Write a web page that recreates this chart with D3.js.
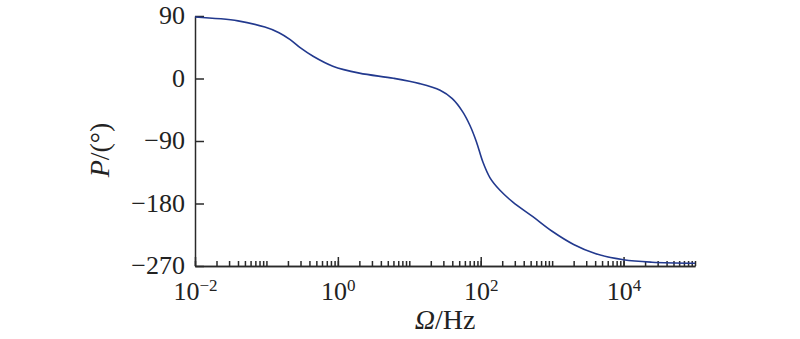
<!DOCTYPE html>
<html>
<head>
<meta charset="utf-8">
<script src="https://cdn.jsdelivr.net/npm/d3@7"></script>
<style>
	body { margin: 0; background: #fff; }
	svg text { font-family: "Liberation Serif", "Times New Roman", serif; fill: #222; }
</style>
</head>
<body>
<div id="chart"></div>
<script>
// frequency points (Hz)
const freq = [0.01, 0.04, 0.095, 0.15, 0.215, 0.3, 0.45, 0.85, 2, 6, 14, 27, 40, 56, 71, 87, 107, 135, 186, 282, 537, 1000, 2000, 4000, 10000, 25000, 100000];
// phase in degrees at those frequencies
const phase = [88.5, 83, 74, 66, 56, 44, 32, 17.7, 7.7, 0.3, -7.4, -17, -29, -48, -68, -91, -120, -143, -161, -178, -199, -220, -239, -252, -261, -264.5, -266];

// y tick values and labelled decades on the x axis
const yTicks = [90, 0, -90, -180, -270];
const xMajor = [-2, 0, 2, 4];

// layout (plot box in pixels)
const W = 800, H = 339;
const m = {left: 195, right: 695, top: 16, bottom: 266};

const svg = d3.select("#chart")
	.append("svg")
	.attr("width", W)
	.attr("height", H);

// scales
const x = d3.scaleLog()
	.domain([1e-2, 1e5])
	.range([m.left, m.right]);

const y = d3.scaleLinear()
	.domain([-270, 90])
	.range([m.bottom, m.top]);

// minor ticks: every 1..9 of each decade
var minor = [];
for (var e = -2; e < 5; e++) {
	for (var k = 1; k < 10; k++) {
		minor.push(k * Math.pow(10, e));
	}
}
minor.push(1e5);

const axisColor = "#2a2a2a";

// x axis with small ticks
const xMinor = svg.append("g")
	.attr("transform", `translate(0,${m.bottom})`)
	.call(d3.axisBottom(x).tickValues(minor).tickSizeInner(-5).tickSizeOuter(0).tickFormat(""));

// x axis big ticks with labels
const xAxis = svg.append("g")
	.attr("transform", `translate(0,${m.bottom})`)
	.call(d3.axisBottom(x).tickValues(xMajor.map(d => Math.pow(10, d))).tickSizeInner(-9).tickSizeOuter(0));

xAxis.selectAll(".tick text").each(function(d) {
	var t = d3.select(this);
	var p = Math.round(Math.log10(d));
	t.text("")
		.attr("y", 34)
		.attr("dy", 0)
		.attr("font-size", 26)
		.attr("text-anchor", "middle");
	t.append("tspan").text("10");
	t.append("tspan")
		.attr("font-size", 17)
		.attr("dy", -9)
		.text(String(p).replace("-", "\u2212"));
});

// y axis
const yAxis = svg.append("g")
	.attr("transform", `translate(${m.left},0)`)
	.call(d3.axisLeft(y).tickValues(yTicks).tickSizeInner(-9).tickSizeOuter(0).tickPadding(10)
		.tickFormat(d => String(d).replace("-", "\u2212")));

yAxis.selectAll(".tick text")
	.attr("font-size", 26)
	.attr("dy", "0.3em");

// axis styling
svg.selectAll(".domain, .tick line")
	.attr("stroke", axisColor)
	.attr("stroke-width", 1.5);
svg.selectAll(".tick text").attr("fill", "#222");

// the phase curve
var pts = freq.map((f, i) => [x(f), y(phase[i])]);

const line = d3.line()
	.curve(d3.curveCatmullRom.alpha(0.5));

svg.append("path")
	.attr("d", line(pts))
	.attr("fill", "none")
	.attr("stroke", "#22398e")
	.attr("stroke-width", 1.6);

// axis titles
const xTitle = svg.append("text")
	.attr("x", (m.left + m.right) / 2)
	.attr("y", 329)
	.attr("text-anchor", "middle")
	.attr("font-size", 28);
xTitle.append("tspan").attr("font-style", "italic").text("\u03A9");
xTitle.append("tspan").text("/Hz");

const yTitle = svg.append("text")
	.attr("transform", "translate(109,150) rotate(-90)")
	.attr("text-anchor", "middle")
	.attr("font-size", 28);
yTitle.append("tspan").attr("font-style", "italic").text("P");
yTitle.append("tspan").text("/(\u00B0)");
</script>
</body>
</html>
